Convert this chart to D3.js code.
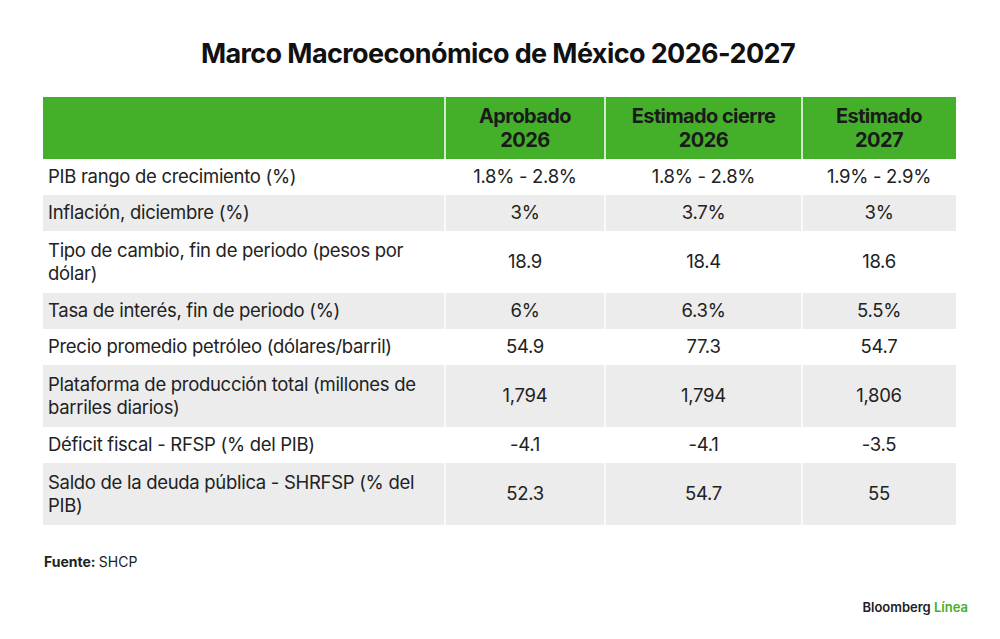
<!DOCTYPE html>
<html><head><meta charset="utf-8">
<script src="https://cdn.jsdelivr.net/npm/d3@7"></script>
<style>body{margin:0;background:#fff}svg{font-family:Inter,"Noto Sans",sans-serif}</style>
</head><body><svg id="c" width="1000" height="639"></svg>
<script>
const headers=["","Aprobado\n2026","Estimado cierre\n2026","Estimado\n2027"];
const labels=["PIB rango de crecimiento (%)","Inflación, diciembre (%)","Tipo de cambio, fin de periodo (pesos por\ndólar)","Tasa de interés, fin de periodo (%)","Precio promedio petróleo (dólares/barril)","Plataforma de producción total (millones de\nbarriles diarios)","Déficit fiscal - RFSP (% del PIB)","Saldo de la deuda pública - SHRFSP (% del\nPIB)"];
const aprobado2026=["1.8% - 2.8%","3%","18.9","6%","54.9","1,794","-4.1","52.3"];
const cierre2026=["1.8% - 2.8%","3.7%","18.4","6.3%","77.3","1,794","-4.1","54.7"];
const estimado2027=["1.9% - 2.9%","3%","18.6","5.5%","54.7","1,806","-3.5","55"];

const svg=d3.select("#c");
svg.append("text").attr("x",498).attr("y",63).attr("text-anchor","middle")
  .attr("font-size",27).attr("font-weight",700).attr("letter-spacing",-0.6).attr("fill","#111")
  .text("Marco Macroeconómico de México 2026-2027");

const colX=[43,445,605,802,956];
const headTop=97, headH=62;
const rowH=labels.map(l=>l.includes("\n")?62:36);
const rowY=[];let y=headTop+headH;rowH.forEach(h=>{rowY.push(y);y+=h;});

function lines(g,txt,x,cy,anchor,size,weight,fill,lh,ls0){
  const ls=txt.split("\n");const t=g.append("text").attr("text-anchor",anchor).attr("font-size",size)
    .attr("font-weight",weight).attr("fill",fill).attr("letter-spacing",ls0||-0.3);
  ls.forEach((s,i)=>t.append("tspan").attr("x",x).attr("y",cy+(i-(ls.length-1)/2)*lh+size*0.35).text(s));
}
svg.append("rect").attr("x",colX[0]).attr("y",headTop).attr("width",colX[4]-colX[0]).attr("height",headH).attr("fill","#44b02a");
headers.forEach((h,i)=>{
  if(i>0){svg.append("line").attr("x1",colX[i]).attr("x2",colX[i]).attr("y1",headTop).attr("y2",headTop+headH).attr("stroke","#fff").attr("stroke-width",1.5);
  lines(svg,h,(colX[i]+colX[i+1])/2,headTop+headH/2,"middle",20,700,"#1a1a1a",24,-0.6);}
});
const cols=[aprobado2026,cierre2026,estimado2027];
labels.forEach((l,r)=>{
  const g=svg.append("g");
  if(r%2==1) g.append("rect").attr("x",colX[0]).attr("y",rowY[r]).attr("width",colX[4]-colX[0]).attr("height",rowH[r]).attr("fill","#ececec");
  for(let i=1;i<4;i++) g.append("line").attr("x1",colX[i]).attr("x2",colX[i]).attr("y1",rowY[r]).attr("y2",rowY[r]+rowH[r]).attr("stroke","#fff").attr("stroke-width",1.5);
  const cy=rowY[r]+rowH[r]/2;
  lines(g,l,48,cy,"start",18.5,400,"#222",23);
  cols.forEach((c,i)=>lines(g,c[r],(colX[i+1]+colX[i+2])/2,cy,"middle",18.5,400,"#222",23));
});
const f=svg.append("text").attr("x",44).attr("y",567).attr("font-size",14).attr("fill","#222");
f.append("tspan").attr("font-weight",700).text("Fuente: ");
f.append("tspan").text("SHCP");
const b=svg.append("text").attr("x",968).attr("y",612).attr("text-anchor","end").attr("font-size",13).attr("font-weight",600);
b.append("tspan").attr("fill","#222").text("Bloomberg ");
b.append("tspan").attr("fill","#44b02a").text("Línea");
</script></body></html>
